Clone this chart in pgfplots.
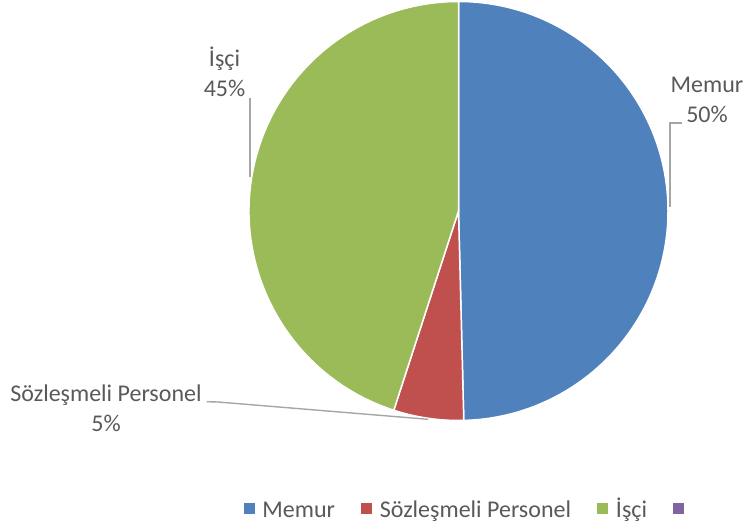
\documentclass[border=0pt]{standalone}
\usepackage{pgfplots}
\usepackage{pgfplotstable}
\pgfplotsset{compat=1.18}
\usepackage{fontspec}
\setmainfont{Carlito}
\definecolor{cMemur}{HTML}{4F81BD}
\definecolor{cSoz}{HTML}{C0504D}
\definecolor{cIsci}{HTML}{9BBB59}
\definecolor{cEmpty}{HTML}{8064A2}
\definecolor{txt}{HTML}{595959}
\definecolor{lead}{HTML}{A6A6A6}

\pgfplotstableread{
label share
Memur 49.6
Sozlesmeli 5.4
Isci 45.0
}\piedata
\pgfplotstablegetelem{0}{share}\of\piedata \let\shA\pgfplotsretval
\pgfplotstablegetelem{1}{share}\of\piedata \let\shB\pgfplotsretval
\pgfplotstablegetelem{2}{share}\of\piedata \let\shC\pgfplotsretval
\pgfmathsetmacro\aA{90}
\pgfmathsetmacro\aB{\aA-3.6*\shA}
\pgfmathsetmacro\aC{\aB-3.6*\shB}
\pgfmathsetmacro\aD{\aC-3.6*\shC}

\newcommand\lblfont{\fontsize{24}{29}\selectfont}

\begin{document}
\begin{tikzpicture}
\begin{axis}[
  hide axis, scale only axis,
  width=746pt, height=526pt,
  xmin=0, xmax=746, ymin=0, ymax=526,
  clip=false,
  legend columns=4,
  legend style={draw=none, fill=none, at={(axis cs:243.3,18)}, anchor=west,
    font=\lblfont, text=txt, inner sep=0pt, nodes={inner sep=0pt},
    /tikz/every odd column/.append style={column sep=8.5pt},
    /tikz/every even column/.append style={column sep=26pt}},
]
\path (axis cs:0,0) rectangle (axis cs:746,526);
% pie slices
\fill[cMemur, draw=white, line width=1.5pt] (axis cs:458.5,315) -- ++(\aA:209.5pt) arc[start angle=\aA, end angle=\aB, radius=209.5pt] -- cycle;
\fill[cSoz, draw=white, line width=1.5pt] (axis cs:458.5,315) -- ++(\aB:209.5pt) arc[start angle=\aB, end angle=\aC, radius=209.5pt] -- cycle;
\fill[cIsci, draw=white, line width=1.5pt] (axis cs:458.5,315) -- ++(\aC:209.5pt) arc[start angle=\aC, end angle=\aD, radius=209.5pt] -- cycle;
% leader lines
\draw[lead, line width=1.4pt] (axis cs:681.7,403) -- (axis cs:670,403) -- (axis cs:670,319);
\draw[lead, line width=1.4pt] (axis cs:250,428.3) -- (axis cs:250,349.3);
\draw[lead, line width=1.4pt] (axis cs:206.7,124.3) -- (axis cs:218,124) -- (axis cs:428,106.7);
% data labels
\node[anchor=base, text=txt, font=\lblfont, inner sep=0pt] at (axis cs:707,433) {Memur};
\node[anchor=base, text=txt, font=\lblfont, inner sep=0pt] at (axis cs:707,403) {50\%};
\node[anchor=base, text=txt, font=\lblfont, inner sep=0pt] at (axis cs:224.5,459) {İşçi};
\node[anchor=base, text=txt, font=\lblfont, inner sep=0pt] at (axis cs:224.5,429.3) {45\%};
\node[anchor=base, text=txt, font=\lblfont, inner sep=0pt] at (axis cs:106,124.3) {Sözleşmeli Personel};
\node[anchor=base, text=txt, font=\lblfont, inner sep=0pt] at (axis cs:106,94.3) {5\%};
% legend
\addlegendimage{legend image code/.code={\fill[cMemur] (0pt,-5pt) rectangle (10pt,5pt);}}
\addlegendentry{\strut Memur}
\addlegendimage{legend image code/.code={\fill[cSoz] (0pt,-5pt) rectangle (10pt,5pt);}}
\addlegendentry{\strut Sözleşmeli Personel}
\addlegendimage{legend image code/.code={\fill[cIsci] (0pt,-5pt) rectangle (10pt,5pt);}}
\addlegendentry{\strut İşçi}
\addlegendimage{legend image code/.code={\fill[cEmpty] (0pt,-5pt) rectangle (10pt,5pt);}}
\addlegendentry{\strut}
\end{axis}
\end{tikzpicture}
\end{document}
